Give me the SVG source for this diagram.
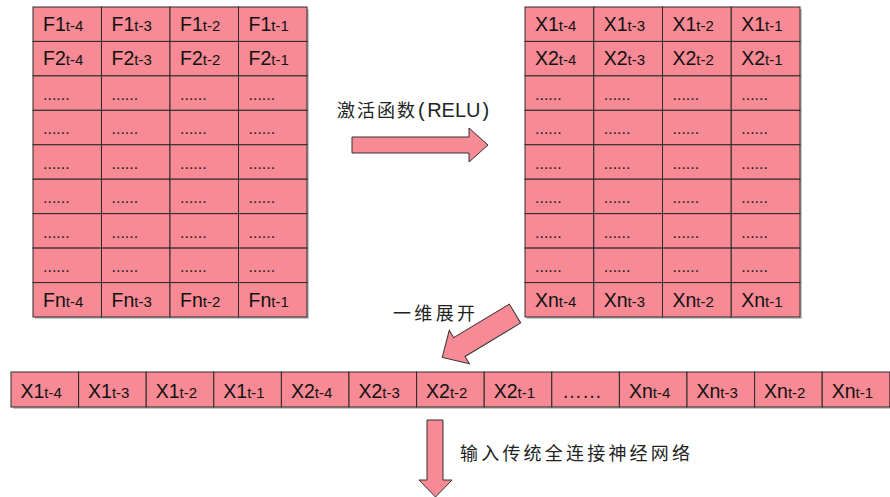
<svg xmlns="http://www.w3.org/2000/svg" width="890" height="497" viewBox="0 0 890 497">
<defs>
<style>
.bg{fill:#ffffff}
.sh{fill:#8c8c8c;opacity:0.5}
.c{fill:#F78A94;stroke:#2a2a2a;stroke-width:1}
.m{font-family:"Liberation Sans",Arial,sans-serif;font-size:19.5px;fill:#111}
.s{font-size:15px}
.d{font-family:"Liberation Sans",Arial,sans-serif;font-size:16px;fill:#222}
.e{font-family:"Liberation Sans",Arial,sans-serif;font-size:20px;fill:#222}
.cn{font-family:"Noto Sans CJK SC","Noto Sans",sans-serif;font-size:18px;fill:#222}
.lat{font-family:"Liberation Sans",Arial,sans-serif;font-size:20px;fill:#222}
.ar{fill:#F78A94;stroke:#333;stroke-width:1;stroke-linejoin:miter}
</style>
</defs>
<rect class="bg" x="0" y="0" width="890" height="497"/>

<g id="grid-input">
<rect class="sh" x="35" y="9" width="274" height="310"/>
<g id="grid-input-cells">
<rect class="c" x="33" y="7" width="68.5" height="34.44"/><rect class="c" x="101.5" y="7" width="68.5" height="34.44"/><rect class="c" x="170" y="7" width="68.5" height="34.44"/><rect class="c" x="238.5" y="7" width="68.5" height="34.44"/>
<rect class="c" x="33" y="41.44" width="68.5" height="34.44"/><rect class="c" x="101.5" y="41.44" width="68.5" height="34.44"/><rect class="c" x="170" y="41.44" width="68.5" height="34.44"/><rect class="c" x="238.5" y="41.44" width="68.5" height="34.44"/>
<rect class="c" x="33" y="75.89" width="68.5" height="34.44"/><rect class="c" x="101.5" y="75.89" width="68.5" height="34.44"/><rect class="c" x="170" y="75.89" width="68.5" height="34.44"/><rect class="c" x="238.5" y="75.89" width="68.5" height="34.44"/>
<rect class="c" x="33" y="110.33" width="68.5" height="34.44"/><rect class="c" x="101.5" y="110.33" width="68.5" height="34.44"/><rect class="c" x="170" y="110.33" width="68.5" height="34.44"/><rect class="c" x="238.5" y="110.33" width="68.5" height="34.44"/>
<rect class="c" x="33" y="144.78" width="68.5" height="34.44"/><rect class="c" x="101.5" y="144.78" width="68.5" height="34.44"/><rect class="c" x="170" y="144.78" width="68.5" height="34.44"/><rect class="c" x="238.5" y="144.78" width="68.5" height="34.44"/>
<rect class="c" x="33" y="179.22" width="68.5" height="34.44"/><rect class="c" x="101.5" y="179.22" width="68.5" height="34.44"/><rect class="c" x="170" y="179.22" width="68.5" height="34.44"/><rect class="c" x="238.5" y="179.22" width="68.5" height="34.44"/>
<rect class="c" x="33" y="213.67" width="68.5" height="34.44"/><rect class="c" x="101.5" y="213.67" width="68.5" height="34.44"/><rect class="c" x="170" y="213.67" width="68.5" height="34.44"/><rect class="c" x="238.5" y="213.67" width="68.5" height="34.44"/>
<rect class="c" x="33" y="248.11" width="68.5" height="34.44"/><rect class="c" x="101.5" y="248.11" width="68.5" height="34.44"/><rect class="c" x="170" y="248.11" width="68.5" height="34.44"/><rect class="c" x="238.5" y="248.11" width="68.5" height="34.44"/>
<rect class="c" x="33" y="282.56" width="68.5" height="34.44"/><rect class="c" x="101.5" y="282.56" width="68.5" height="34.44"/><rect class="c" x="170" y="282.56" width="68.5" height="34.44"/><rect class="c" x="238.5" y="282.56" width="68.5" height="34.44"/>
</g>
<g id="grid-input-text">
<text class="m" x="43" y="31">F1<tspan class="s">t-4</tspan></text><text class="m" x="111.5" y="31">F1<tspan class="s">t-3</tspan></text><text class="m" x="180" y="31">F1<tspan class="s">t-2</tspan></text><text class="m" x="248.5" y="31">F1<tspan class="s">t-1</tspan></text>
<text class="m" x="43" y="65.4">F2<tspan class="s">t-4</tspan></text><text class="m" x="111.5" y="65.4">F2<tspan class="s">t-3</tspan></text><text class="m" x="180" y="65.4">F2<tspan class="s">t-2</tspan></text><text class="m" x="248.5" y="65.4">F2<tspan class="s">t-1</tspan></text>
<text class="d" x="43" y="99.9">......</text><text class="d" x="111.5" y="99.9">......</text><text class="d" x="180" y="99.9">......</text><text class="d" x="248.5" y="99.9">......</text>
<text class="d" x="43" y="134.3">......</text><text class="d" x="111.5" y="134.3">......</text><text class="d" x="180" y="134.3">......</text><text class="d" x="248.5" y="134.3">......</text>
<text class="d" x="43" y="168.8">......</text><text class="d" x="111.5" y="168.8">......</text><text class="d" x="180" y="168.8">......</text><text class="d" x="248.5" y="168.8">......</text>
<text class="d" x="43" y="203.2">......</text><text class="d" x="111.5" y="203.2">......</text><text class="d" x="180" y="203.2">......</text><text class="d" x="248.5" y="203.2">......</text>
<text class="d" x="43" y="237.7">......</text><text class="d" x="111.5" y="237.7">......</text><text class="d" x="180" y="237.7">......</text><text class="d" x="248.5" y="237.7">......</text>
<text class="d" x="43" y="272.1">......</text><text class="d" x="111.5" y="272.1">......</text><text class="d" x="180" y="272.1">......</text><text class="d" x="248.5" y="272.1">......</text>
<text class="m" x="43" y="306.6">Fn<tspan class="s">t-4</tspan></text><text class="m" x="111.5" y="306.6">Fn<tspan class="s">t-3</tspan></text><text class="m" x="180" y="306.6">Fn<tspan class="s">t-2</tspan></text><text class="m" x="248.5" y="306.6">Fn<tspan class="s">t-1</tspan></text>
</g>
</g>

<g id="grid-activated">
<rect class="sh" x="527" y="9" width="275" height="310"/>
<g id="grid-activated-cells">
<rect class="c" x="525" y="7" width="68.75" height="34.44"/><rect class="c" x="593.75" y="7" width="68.75" height="34.44"/><rect class="c" x="662.5" y="7" width="68.75" height="34.44"/><rect class="c" x="731.25" y="7" width="68.75" height="34.44"/>
<rect class="c" x="525" y="41.44" width="68.75" height="34.44"/><rect class="c" x="593.75" y="41.44" width="68.75" height="34.44"/><rect class="c" x="662.5" y="41.44" width="68.75" height="34.44"/><rect class="c" x="731.25" y="41.44" width="68.75" height="34.44"/>
<rect class="c" x="525" y="75.89" width="68.75" height="34.44"/><rect class="c" x="593.75" y="75.89" width="68.75" height="34.44"/><rect class="c" x="662.5" y="75.89" width="68.75" height="34.44"/><rect class="c" x="731.25" y="75.89" width="68.75" height="34.44"/>
<rect class="c" x="525" y="110.33" width="68.75" height="34.44"/><rect class="c" x="593.75" y="110.33" width="68.75" height="34.44"/><rect class="c" x="662.5" y="110.33" width="68.75" height="34.44"/><rect class="c" x="731.25" y="110.33" width="68.75" height="34.44"/>
<rect class="c" x="525" y="144.78" width="68.75" height="34.44"/><rect class="c" x="593.75" y="144.78" width="68.75" height="34.44"/><rect class="c" x="662.5" y="144.78" width="68.75" height="34.44"/><rect class="c" x="731.25" y="144.78" width="68.75" height="34.44"/>
<rect class="c" x="525" y="179.22" width="68.75" height="34.44"/><rect class="c" x="593.75" y="179.22" width="68.75" height="34.44"/><rect class="c" x="662.5" y="179.22" width="68.75" height="34.44"/><rect class="c" x="731.25" y="179.22" width="68.75" height="34.44"/>
<rect class="c" x="525" y="213.67" width="68.75" height="34.44"/><rect class="c" x="593.75" y="213.67" width="68.75" height="34.44"/><rect class="c" x="662.5" y="213.67" width="68.75" height="34.44"/><rect class="c" x="731.25" y="213.67" width="68.75" height="34.44"/>
<rect class="c" x="525" y="248.11" width="68.75" height="34.44"/><rect class="c" x="593.75" y="248.11" width="68.75" height="34.44"/><rect class="c" x="662.5" y="248.11" width="68.75" height="34.44"/><rect class="c" x="731.25" y="248.11" width="68.75" height="34.44"/>
<rect class="c" x="525" y="282.56" width="68.75" height="34.44"/><rect class="c" x="593.75" y="282.56" width="68.75" height="34.44"/><rect class="c" x="662.5" y="282.56" width="68.75" height="34.44"/><rect class="c" x="731.25" y="282.56" width="68.75" height="34.44"/>
</g>
<g id="grid-activated-text">
<text class="m" x="535" y="31">X1<tspan class="s">t-4</tspan></text><text class="m" x="603.75" y="31">X1<tspan class="s">t-3</tspan></text><text class="m" x="672.5" y="31">X1<tspan class="s">t-2</tspan></text><text class="m" x="741.25" y="31">X1<tspan class="s">t-1</tspan></text>
<text class="m" x="535" y="65.4">X2<tspan class="s">t-4</tspan></text><text class="m" x="603.75" y="65.4">X2<tspan class="s">t-3</tspan></text><text class="m" x="672.5" y="65.4">X2<tspan class="s">t-2</tspan></text><text class="m" x="741.25" y="65.4">X2<tspan class="s">t-1</tspan></text>
<text class="d" x="535" y="99.9">......</text><text class="d" x="603.75" y="99.9">......</text><text class="d" x="672.5" y="99.9">......</text><text class="d" x="741.25" y="99.9">......</text>
<text class="d" x="535" y="134.3">......</text><text class="d" x="603.75" y="134.3">......</text><text class="d" x="672.5" y="134.3">......</text><text class="d" x="741.25" y="134.3">......</text>
<text class="d" x="535" y="168.8">......</text><text class="d" x="603.75" y="168.8">......</text><text class="d" x="672.5" y="168.8">......</text><text class="d" x="741.25" y="168.8">......</text>
<text class="d" x="535" y="203.2">......</text><text class="d" x="603.75" y="203.2">......</text><text class="d" x="672.5" y="203.2">......</text><text class="d" x="741.25" y="203.2">......</text>
<text class="d" x="535" y="237.7">......</text><text class="d" x="603.75" y="237.7">......</text><text class="d" x="672.5" y="237.7">......</text><text class="d" x="741.25" y="237.7">......</text>
<text class="d" x="535" y="272.1">......</text><text class="d" x="603.75" y="272.1">......</text><text class="d" x="672.5" y="272.1">......</text><text class="d" x="741.25" y="272.1">......</text>
<text class="m" x="535" y="306.6">Xn<tspan class="s">t-4</tspan></text><text class="m" x="603.75" y="306.6">Xn<tspan class="s">t-3</tspan></text><text class="m" x="672.5" y="306.6">Xn<tspan class="s">t-2</tspan></text><text class="m" x="741.25" y="306.6">Xn<tspan class="s">t-1</tspan></text>
</g>
</g>

<g id="row-flattened">
<rect class="sh" x="13" y="374" width="880" height="35"/>
<g id="row-flattened-cells">
<rect class="c" x="11" y="372" width="67.6" height="35"/><rect class="c" x="78.6" y="372" width="67.6" height="35"/><rect class="c" x="146.2" y="372" width="67.6" height="35"/><rect class="c" x="213.8" y="372" width="67.6" height="35"/><rect class="c" x="281.4" y="372" width="67.6" height="35"/><rect class="c" x="349" y="372" width="67.6" height="35"/><rect class="c" x="416.6" y="372" width="67.6" height="35"/><rect class="c" x="484.2" y="372" width="67.6" height="35"/><rect class="c" x="551.8" y="372" width="67.6" height="35"/><rect class="c" x="619.4" y="372" width="67.6" height="35"/><rect class="c" x="687" y="372" width="67.6" height="35"/><rect class="c" x="754.6" y="372" width="67.6" height="35"/><rect class="c" x="822.2" y="372" width="67.6" height="35"/>
</g>
<g id="row-flattened-text">
<text class="m" x="20.5" y="398">X1<tspan class="s">t-4</tspan></text><text class="m" x="88.1" y="398">X1<tspan class="s">t-3</tspan></text><text class="m" x="155.7" y="398">X1<tspan class="s">t-2</tspan></text><text class="m" x="223.3" y="398">X1<tspan class="s">t-1</tspan></text><text class="m" x="290.9" y="398">X2<tspan class="s">t-4</tspan></text><text class="m" x="358.5" y="398">X2<tspan class="s">t-3</tspan></text><text class="m" x="426.1" y="398">X2<tspan class="s">t-2</tspan></text><text class="m" x="493.7" y="398">X2<tspan class="s">t-1</tspan></text><text class="e" x="562" y="398">……</text><text class="m" x="628.9" y="398">Xn<tspan class="s">t-4</tspan></text><text class="m" x="696.5" y="398">Xn<tspan class="s">t-3</tspan></text><text class="m" x="764.1" y="398">Xn<tspan class="s">t-2</tspan></text><text class="m" x="831.7" y="398">Xn<tspan class="s">t-1</tspan></text>
</g>
</g>

<g id="connectors">
<g id="arrow-relu">
<polygon class="ar" points="352,137 469,137 469,128 488,145 469,162 469,153 352,153"/>
<text class="cn" x="337" y="117" textLength="78" lengthAdjust="spacing">激活函数</text>
<text class="lat" x="418" y="117">(<tspan dx="2.5">RELU</tspan><tspan dx="2">)</tspan></text>
</g>
<g id="arrow-flatten">
<polygon class="ar" transform="translate(515,313.5) rotate(148.9)" points="0,-11 65,-11 65,-19.5 85,0 65,19.5 65,11 0,11"/>
<text class="cn" x="393" y="320" textLength="82" lengthAdjust="spacing">一维展开</text>
</g>
<g id="arrow-output">
<polygon class="ar" points="427,420 443,420 443,480 452,480 435.5,497 419,480 427,480"/>
<text class="cn" x="460" y="460" textLength="230" lengthAdjust="spacing">输入传统全连接神经网络</text>
</g>
</g>
</svg>
